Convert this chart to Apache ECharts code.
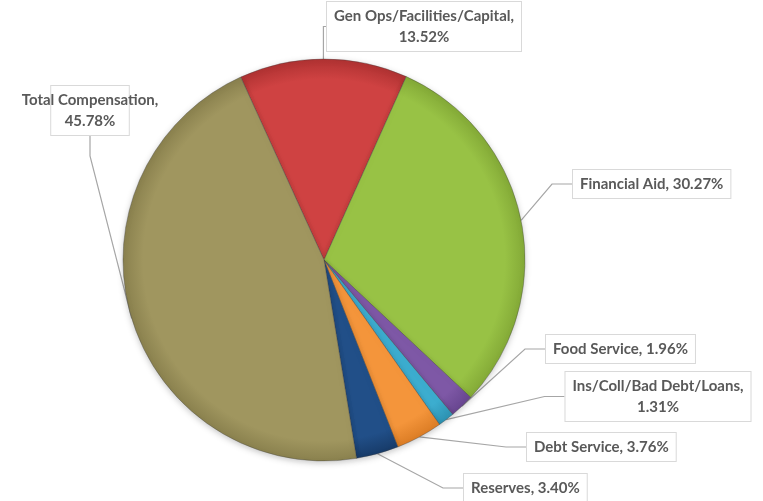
<!DOCTYPE html>
<html>
<head>
<meta charset="utf-8">
<script src="https://cdn.jsdelivr.net/npm/echarts@6/dist/echarts.min.js"></script>
<style>
html,body{margin:0;padding:0;background:#fff;}
#chart{width:763px;height:501px;}
</style>
</head>
<body>
<div id="chart"></div>
<script>
// Data
var categories = ['Gen Ops/Facilities/Capital', 'Financial Aid', 'Food Service', 'Ins/Coll/Bad Debt/Loans', 'Debt Service', 'Reserves', 'Total Compensation'];
var shares = [13.52, 30.27, 1.96, 1.31, 3.76, 3.40, 45.78];
var wrapLabel = [true, false, false, true, false, false, true];

// Styles
var baseColors = ['#cf4242', '#98c245', '#7e58a6', '#3cadcf', '#f4953b', '#214f88', '#a0965f'];
var edgeColors = ['#b03232', '#84aa37', '#684690', '#2d92b2', '#dc7d25', '#173b69', '#8a814e'];
// label boxes: [x, y, align]
var labelPos = [
  [424, 2, 'center'],
  [573, 170, 'left'],
  [546, 335, 'left'],
  [658, 372, 'center'],
  [527, 433, 'left'],
  [464, 474, 'left'],
  [90, 86, 'center']
];
var CX = 324, CY = 260, R = 201;

var chart = echarts.init(document.getElementById('chart'), null, {renderer: 'canvas'});
var data = categories.map(function (c, i) {
  return {
    name: c,
    value: shares[i],
    itemStyle: {
      color: {
        type: 'radial', x: CX, y: CY, r: R, global: true,
        colorStops: [{offset: 0, color: baseColors[i]}, {offset: 0.9, color: baseColors[i]}, {offset: 1, color: edgeColors[i]}]
      }
    }
  };
});

chart.setOption({
  animation: false,
  series: [{
    type: 'pie',
    center: [CX, CY],
    radius: R,
    startAngle: 114.5,
    clockwise: true,
    data: data,
    itemStyle: {
      borderColor: 'rgba(60,60,60,0.35)',
      borderWidth: 1,
      shadowBlur: 6,
      shadowOffsetY: 2,
      shadowColor: 'rgba(0,0,0,0.22)'
    },
    label: {
      show: true,
      formatter: function (p) {
        var i = p.dataIndex;
        return categories[i] + ',' + (wrapLabel[i] ? '\n' : ' ') + shares[i].toFixed(2) + '%';
      },
      fontFamily: 'Lato',
      fontWeight: 'bold',
      fontSize: 15,
      lineHeight: 21,
      color: '#595959',
      backgroundColor: '#ffffff',
      borderColor: '#d9d9d9',
      borderWidth: 1,
      padding: [4, 7, 3, 7],
      align: 'center',
      overflow: 'none',
      width: null
    },
    labelLine: {
      show: true,
      length: 20,
      length2: 20,
      lineStyle: {color: '#a6a6a6', width: 1.2}
    },
    labelLayout: function (p) {
      var lp = labelPos[p.dataIndex];
      return {x: lp[0], y: lp[1], align: lp[2], verticalAlign: 'top', hideOverlap: false};
    }
  }]
});
</script>
</body>
</html>
